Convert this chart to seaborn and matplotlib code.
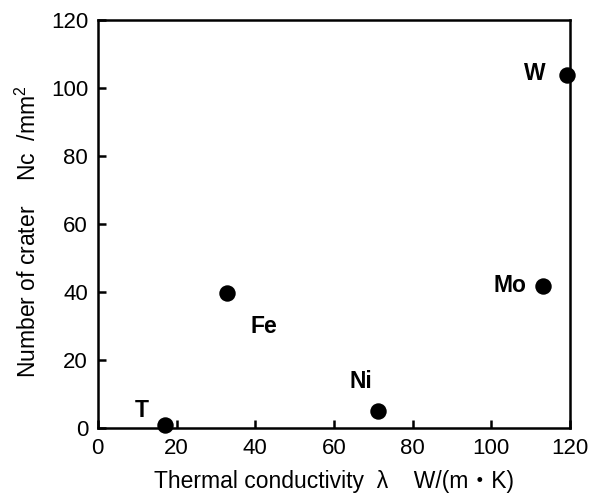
import matplotlib
matplotlib.use('Agg')
import matplotlib.pyplot as plt
import seaborn as sns
import pandas as pd

# values
metals = ['T', 'Fe', 'Ni', 'Mo', 'W']
conductivity = [17, 32.8, 71.2, 113.1, 119.2]
craters = [0.9, 39.7, 5.0, 41.8, 103.8]

df = pd.DataFrame({'metal': metals, 'lambda': conductivity, 'nc': craters})

sns.set_style('white')
plt.rcParams['font.family'] = ['Liberation Sans', 'Noto Sans CJK JP', 'DejaVu Sans']
plt.rcParams['mathtext.fontset'] = 'custom'
plt.rcParams['mathtext.rm'] = 'Liberation Sans'
plt.rcParams['mathtext.it'] = 'Liberation Sans:italic'
plt.rcParams['text.color'] = 'black'
plt.rcParams['axes.labelcolor'] = 'black'
plt.rcParams['xtick.color'] = 'black'
plt.rcParams['ytick.color'] = 'black'

fig = plt.figure(figsize=(6, 5), dpi=100)
ax = fig.add_axes([0.163, 0.144, 0.787, 0.816])

sns.scatterplot(data=df, x='lambda', y='nc', ax=ax, color='black', s=140,
                edgecolor='black', linewidth=0, legend=False, clip_on=False, zorder=3)

# label offsets in pixels from each point
offsets = {'T': (-23, 14), 'Fe': (37, -33), 'Ni': (-17, 30), 'Mo': (-33, 0), 'W': (-32, 2)}
for _, r in df.iterrows():
    ax.annotate(r['metal'], (r['lambda'], r['nc']), xytext=offsets[r['metal']],
                textcoords='offset pixels', ha='center', va='center',
                fontsize=16.5, fontweight='bold')

ax.set_xlim(0, 120)
ax.set_ylim(0, 120)
ax.set_xticks(range(0, 121, 20))
ax.set_yticks(range(0, 121, 20))
ax.tick_params(direction='in', length=6, width=1.8, labelsize=16, pad=7,
               top=False, right=False, left=True, bottom=True)
for sp in ax.spines.values():
    sp.set_linewidth(1.8)
    sp.set_color('black')

ax.set_xlabel('Thermal conductivity  λ    W/(m・K)', fontsize=16.5, labelpad=8)
ax.set_ylabel(r'Number of crater    Nc  /mm$^2$', fontsize=16.5)
ax.yaxis.set_label_coords(-0.12, 0.48)

fig.savefig('out.png', dpi=100)
